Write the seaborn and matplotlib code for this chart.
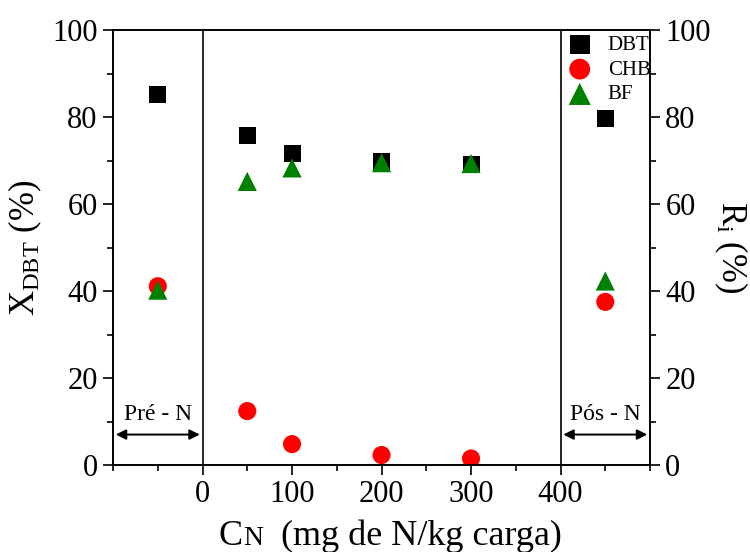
import matplotlib
matplotlib.use("Agg")
import matplotlib.pyplot as plt
import seaborn as sns
import pandas as pd
from matplotlib.ticker import MultipleLocator

# Nitrogen content (mg N / kg feed); -50 and 450 mark the pre- and post-N runs
cn = [-50, 50, 100, 200, 300, 450]
dbt = [85.2, 75.7, 71.6, 69.7, 69.1, 79.7]
chb = [41.1, 12.4, 4.8, 2.3, 1.5, 37.5]
bf = [40.2, 65.2, 68.3, 69.5, 69.3, 42.3]

xticks = [0, 100, 200, 300, 400]
yticks = [0, 20, 40, 60, 80, 100]

sns.set_style("ticks")
plt.rcParams["font.family"] = ["Liberation Serif", "DejaVu Serif"]
plt.rcParams["mathtext.fontset"] = "custom"
plt.rcParams["mathtext.rm"] = "Liberation Serif"
plt.rcParams["mathtext.it"] = "Liberation Serif:italic"
for key in ("text.color", "axes.labelcolor", "xtick.color", "ytick.color", "axes.edgecolor"):
    plt.rcParams[key] = "black"

df = pd.DataFrame({"CN": cn, "DBT": dbt, "CHB": chb, "BF": bf})

fig = plt.figure(figsize=(7.5, 5.52), dpi=100)
ax = fig.add_axes([0.1507, 0.1576, 0.716, 0.788])

styles = [("DBT", "s", "black", 150), ("CHB", "o", "#ff0000", 170), ("BF", "^", "green", 190)]
for name, mk, col, sz in styles:
    sns.scatterplot(data=df, x="CN", y=name, marker=mk, color=col, s=sz,
                    edgecolor="none", ax=ax, label=name, zorder=3)

ax.set_xlim(-100, 500)
ax.set_ylim(0, 100)
ax.set_xticks(xticks)
ax.set_yticks(yticks)
ax.xaxis.set_minor_locator(MultipleLocator(50))
ax.yaxis.set_minor_locator(MultipleLocator(10))
ax.tick_params(which="major", direction="out", length=7, width=1.2, labelsize=22,
               colors="black", pad=4)
ax.tick_params(which="minor", direction="out", length=4, width=1.2)
for sp in ax.spines.values():
    sp.set_linewidth(1.2)
    sp.set_color("black")

# separators for the pre- and post-nitrogen periods
for xv in (0, 400):
    ax.axvline(xv, color="black", lw=1.2, zorder=1)

ax.annotate("", xy=(-100, 7), xytext=(0, 7),
            arrowprops=dict(arrowstyle="<|-|>", color="black", lw=1.4, mutation_scale=15))
ax.annotate("", xy=(400, 7), xytext=(500, 7),
            arrowprops=dict(arrowstyle="<|-|>", color="black", lw=1.4, mutation_scale=15))
ax.text(-50, 9.3, "Pré - N", ha="center", va="bottom", fontsize=17)
ax.text(450, 9.3, "Pós - N", ha="center", va="bottom", fontsize=17)

ax.set_xlabel("")
ax.set_ylabel(r"X$_{\mathregular{DBT}}$ (%)", fontsize=25, labelpad=6)

# x label: C with a small-cap N
c_txt = fig.text(0.291, 0.012, "C", fontsize=26, ha="left", va="baseline")
fig.canvas.draw()
bb = c_txt.get_window_extent()
fig.text(bb.x1 / fig.bbox.width + 0.001, 0.012, "N", fontsize=20, ha="left", va="baseline")
fig.text(bb.x1 / fig.bbox.width + 0.052, 0.012, "(mg de N/kg carga)", fontsize=26,
         ha="left", va="baseline")

# right axis, same scale
ax2 = ax.twinx()
ax2.set_ylim(0, 100)
ax2.set_yticks(yticks)
ax2.yaxis.set_minor_locator(MultipleLocator(10))
ax2.tick_params(which="major", direction="out", length=7, width=1.2, labelsize=22, pad=4)
ax2.tick_params(which="minor", direction="out", length=4, width=1.2)
ax2.set_ylabel(r"R$_{\mathregular{i}}$ (%)", fontsize=25, rotation=270, labelpad=28)
for sp in ax2.spines.values():
    sp.set_linewidth(1.2)

leg = ax.legend(loc="upper left", bbox_to_anchor=(0.84, 1.0), frameon=False,
                fontsize=15, handlelength=1.0, handletextpad=0.85, labelspacing=0.25,
                borderaxespad=0.0, borderpad=0.25, markerscale=1.15)

fig.savefig("out.png", dpi=100)
